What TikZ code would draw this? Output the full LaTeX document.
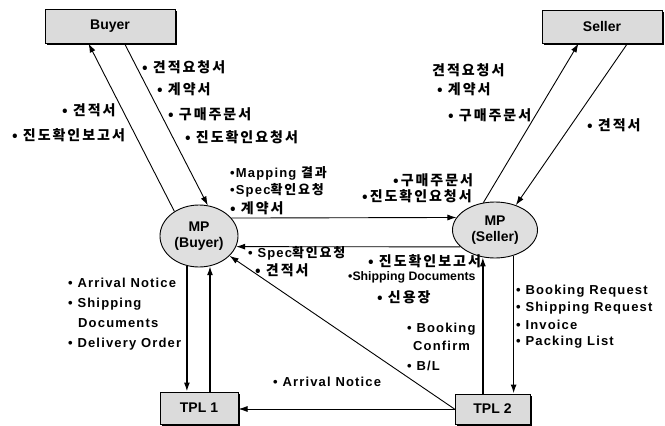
\documentclass[tikz,border=0pt]{standalone}
\usepackage{fontspec}
\setmainfont{Liberation Sans}
\newfontfamily\kr{Noto Sans CJK KR}[LetterSpace=14]
\newfontfamily\lat{Liberation Sans}[LetterSpace=9]
\newfontfamily\latc{Liberation Sans}
\usetikzlibrary{arrows.meta,shadows,calc,shapes.geometric}
\tikzset{
  box/.style={draw=black, line width=1pt, fill=gray!28, inner sep=0pt,
    drop shadow={shadow xshift=1.5pt, shadow yshift=-2pt, fill=black, opacity=1},
    font=\fontsize{14}{16}\selectfont\bfseries},
  mp/.style={draw=black, line width=0.9pt, ellipse, fill=gray!25, inner sep=0pt,
    align=center, font=\fontsize{14}{16}\selectfont\bfseries},
  arr/.style={line width=0.9pt, -{Latex[length=9pt,width=6pt]}},
  varr/.style={line width=1.4pt, -{Latex[length=9pt,width=6pt]}},
  krl/.style={anchor=west, inner sep=0pt, font=\kr\fontsize{14}{15}\selectfont\bfseries},
  enl/.style={anchor=west, inner sep=0pt, font=\lat\fontsize{13}{14}\selectfont\bfseries},
  mxl/.style={anchor=west, inner sep=0pt, font=\lat\fontsize{13}{14}\selectfont\bfseries},
}
\begin{document}
\begin{tikzpicture}[x=1pt,y=-1pt]
\useasboundingbox (0,0) rectangle (665,426);
% boxes
\node[box, minimum width=130pt, minimum height=34pt] (buyer) at (110,26) {Buyer};
\node[box, minimum width=120pt, minimum height=33pt] (seller) at (602,26.5) {Seller};
\node[box, minimum width=78pt, minimum height=32pt] (tpl1) at (199,408) {TPL 1};
\node[box, minimum width=75pt, minimum height=30pt] (tpl2) at (492.5,409) {TPL 2};
\node[mp, minimum width=78pt, minimum height=62pt] (mpb) at (199,236) {MP\\(Buyer)};
\node[mp, minimum width=85pt, minimum height=56pt] (mps) at (495,230) {MP\\(Seller)};
% connectors buyer
\draw[arr] (mpb.135) -- ($(buyer.south west)+(44,0)$);
\draw[arr] ($(buyer.south west)+(80,0)$) -- (mpb.74);
% seller
\draw[arr] (mps.113) -- ($(seller.south west)+(37,0)$);
\draw[arr] ($(seller.south west)+(86,0)$) -- (mps.50);
% mp to mp
\draw[arr] (mpb.29.6) -- (mps.162.6);
\draw[arr] (mps.206.7) -- (mpb.-16.8);
% tpl2 to mpb and tpl1
\draw[arr] (tpl2.west) -- (mpb.-33);
\draw[arr] (tpl2.west) -- (tpl2.west -| tpl1.east);
% verticals
\draw[varr] (mpb.248) -- (mpb.248 |- tpl1.north);
\draw[varr] (mpb.-70 |- tpl1.north) -- (mpb.-70);
\draw[varr] (mps.246 |- tpl2.north) -- (mps.246);
\draw[varr] (mps.-54.7) -- (mps.-54.7 |- tpl2.north);
% labels left top
\node[krl] (l1) at (142,67) {• 견적요청서};
\node[krl] (l2) at (157,89) {• 계약서};
\node[krl] (l3) at (168,114) {• 구매주문서};
\node[krl] (l4) at (185,137) {• 진도확인요청서};
\node[krl] (l5) at (62,110) {• 견적서};
\node[krl] (l6) at (12,135) {• 진도확인보고서};
% labels right top
\node[krl] (r1) at (432,70) {견적요청서};
\node[krl] (r2) at (437,89) {• 계약서};
\node[krl] (r3) at (448,115) {• 구매주문서};
\node[krl] (r4) at (587,125) {• 견적서};
% middle
\node[mxl] (m1) at (230,173) {•Mapping {\kr\bfseries 결과}};
\node[mxl] (m2) at (230,190) {•Spec{\kr\bfseries 확인요청}};
\node[krl] (m3) at (230,208) {• 계약서};
\node[krl] (m4) at (393,180) {•구매주문서};
\node[krl] (m5) at (362,196) {•진도확인요청서};
\node[mxl] (m6) at (248,253) {• Spec{\kr\bfseries 확인요청}};
\node[krl] (m7) at (255,270) {• 견적서};
\node[krl] (m8) at (368,261) {• 진도확인보고서};
\node[anchor=west, inner sep=0pt, font=\latc\fontsize{12.3}{13}\selectfont\bfseries] (m9) at (348,277) {•Shipping Documents};
\node[krl] (m10) at (377,297) {• 신용장};
% bottom right
\node[enl] (b1) at (407,329) {• Booking};
\node[enl] (b2) at (413,346) {Confirm};
\node[enl] (b3) at (407,366) {• B/L};
\node[enl] (s1) at (516,291) {• Booking Request};
\node[enl] (s2) at (516,308) {• Shipping Request};
\node[enl] (s3) at (516,325) {• Invoice};
\node[enl] (s4) at (516,342) {• Packing List};
% bottom left
\node[enl] (a1) at (68,283) {• Arrival Notice};
\node[enl] (a2) at (68,304) {• Shipping};
\node[enl] (a3) at (78,323) {Documents};
\node[enl] (a4) at (68,344) {• Delivery Order};
\node[enl] (a5) at (273,382) {• Arrival Notice};
\end{tikzpicture}
\end{document}
